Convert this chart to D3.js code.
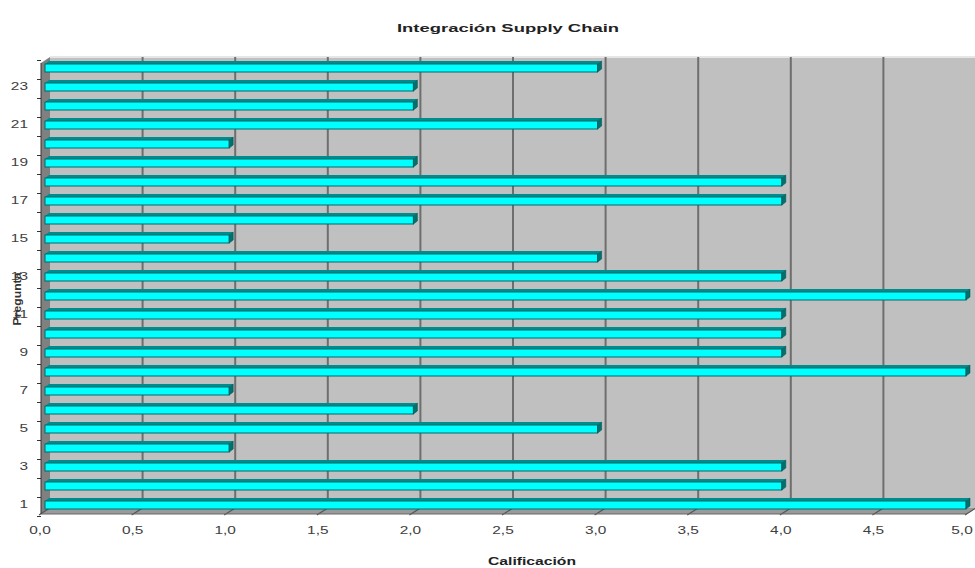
<!DOCTYPE html>
<html><head><meta charset="utf-8">
<script src="https://cdn.jsdelivr.net/npm/d3@7"></script>
<style>body{margin:0;background:#fff}svg{display:block;font-family:Arial,"Liberation Sans",sans-serif}</style>
</head><body><svg id="c" width="975" height="568"></svg>
<script>
const categories = [1,2,3,4,5,6,7,8,9,10,11,12,13,14,15,16,17,18,19,20,21,22,23,24];
const values = [5,4,4,1,3,2,1,5,4,4,4,5,4,3,1,2,4,4,2,1,3,2,2,3];
const xTicks = [0,0.5,1,1.5,2,2.5,3,3.5,4,4.5,5];
const yLabelCats = [1,3,5,7,9,11,13,15,17,19,21,23];
const chartTitle = "Integración Supply Chain";
const xTitle = "Calificación";
const yTitle = "Pregunta";

(function(){
const svg = d3.select("#c");
const dx = 9, dy = 6;           // 3D depth offset
const plotTop = 57, plotBottom = 514;
const xFront = d3.scaleLinear().domain([0,5]).range([41,967]);
const xBack = v => xFront(v) + dx;
const xBar = d3.scaleLinear().domain([0,5]).range([45,966]);
const y = d3.scaleBand().domain(categories.slice().reverse()).range([plotTop+0.5, plotBottom-0.5]).padding(0);
const sx = 1.4;

// back wall
svg.append("rect").attr("x", xBack(0)).attr("y", plotTop).attr("width", xBack(5)-xBack(0)).attr("height", plotBottom-dy-plotTop)
  .attr("fill","#c0c0c0");
svg.append("line").attr("x1",xBack(0)).attr("x2",975).attr("y1",plotTop).attr("y2",plotTop).attr("stroke","#e6e6e6").attr("stroke-width",2);
// left wall
svg.append("polygon").attr("points",[[xFront(0),plotTop+dy],[xBack(0),plotTop],[xBack(0),plotBottom-dy],[xFront(0),plotBottom]].join(" "))
  .attr("fill","#808080");
// floor
svg.append("polygon").attr("points",[[xFront(0),plotBottom],[xBack(0),plotBottom-dy],[xBack(5),plotBottom-dy],[xFront(5),plotBottom]].join(" "))
  .attr("fill","#9a9a9a");
// gridlines
svg.append("g").selectAll("line").data(xTicks.slice(1)).join("line")
  .attr("x1",d=>xBack(d)).attr("x2",d=>xBack(d)).attr("y1",plotTop).attr("y2",plotBottom-dy)
  .attr("stroke","#6e6e6e").attr("stroke-width",2);
svg.append("g").selectAll("line").data(xTicks).join("line")
  .attr("x1",d=>xFront(d)-2).attr("y1",plotBottom+1).attr("x2",d=>xBack(d)).attr("y2",plotBottom-dy)
  .attr("stroke","#555").attr("stroke-width",1.2);
svg.append("line").attr("x1",xFront(0)).attr("x2",xFront(5)).attr("y1",plotBottom).attr("y2",plotBottom).attr("stroke","#666");

// bars
const bh = 8;
const g = svg.append("g");
categories.forEach((c,i)=>{
  const v = values[i];
  const yc = y(c) + y.bandwidth()/2;
  const y0 = yc - bh/2 + 1;
  const x0 = xBar(0), x1 = xBar(v);
  g.append("polygon").attr("points",[[x0,y0],[x0+4,y0-3],[x1+4,y0-3],[x1,y0]].join(" ")).attr("fill","#008c8c");
  g.append("rect").attr("x",x0).attr("y",y0).attr("width",x1-x0).attr("height",bh).attr("fill","#00ffff").attr("stroke","#006a6a").attr("stroke-width",1);
  g.append("polygon").attr("points",[[x1,y0],[x1+4,y0-3],[x1+4,y0+bh-3],[x1,y0+bh]].join(" ")).attr("fill","#007070").attr("stroke","#004f4f").attr("stroke-width",0.5);
});

// y axis
svg.append("line").attr("x1",xFront(0)).attr("x2",xFront(0)).attr("y1",plotTop+dy).attr("y2",plotBottom).attr("stroke","#333");
const bounds = categories.map(c=>y(c)).concat([y(1)+y.bandwidth()]);
svg.append("g").selectAll("line").data(bounds).join("line")
  .attr("x1",xFront(0)-4).attr("x2",xFront(0)).attr("y1",d=>d+dy/2).attr("y2",d=>d+dy/2).attr("stroke","#333");
svg.append("g").selectAll("text").data(yLabelCats).join("text")
  .attr("transform",d=>`translate(28,${y(d)+y.bandwidth()/2+4}) scale(${sx},1)`).attr("text-anchor","end")
  .attr("font-size",11).attr("fill","#404040").text(d=>d);
svg.append("text").attr("transform","translate(21,299) rotate(-90)").attr("text-anchor","middle")
  .attr("font-size",11).attr("font-weight","bold").attr("fill","#333")
  .attr("textLength",53).attr("lengthAdjust","spacingAndGlyphs").text(yTitle);

// x labels
const fmt = d => d.toFixed(1).replace(".",",");
svg.append("g").selectAll("text").data(xTicks).join("text")
  .attr("transform",d=>`translate(${Math.min(xFront(d)-1, 962)},534) scale(${sx},1)`).attr("text-anchor","middle")
  .attr("font-size",11).attr("fill","#404040").text(fmt);

svg.append("text").attr("x",532).attr("y",565).attr("text-anchor","middle").attr("font-size",11).attr("font-weight","bold").attr("fill","#222")
  .attr("textLength",88).attr("lengthAdjust","spacingAndGlyphs").text(xTitle);
svg.append("text").attr("x",508).attr("y",32).attr("text-anchor","middle").attr("font-size",11).attr("font-weight","bold").attr("fill","#222")
  .attr("textLength",222).attr("lengthAdjust","spacingAndGlyphs").text(chartTitle);
})();
</script></body></html>
